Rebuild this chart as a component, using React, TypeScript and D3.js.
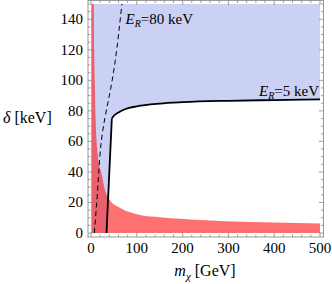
import React from "react";
import * as d3 from "d3";

// ---- data ----
// lower boundary of the E_R = 5 keV region (solid black): near-vertical part, then curve
const solidSteepM = [33.8, 45.5];
const solidSteepD = [0, 75];
const solidCurveM = [45.5, 50, 60, 75, 100, 150, 200, 300, 400, 500];
const solidCurveD = [75, 76.8, 79, 81.2, 83, 84.8, 85.7, 86.6, 87.1, 87.5];
// E_R = 80 keV (dashed)
const dashedM = [7.2, 15, 22.9, 38, 53, 67.5];
const dashedD = [0, 30.8, 61, 87, 113, 150];
// red excluded region upper boundary
const redM = [1, 6, 7, 8.5, 10, 12, 16, 23, 30.6, 41, 63, 107, 151, 239, 350, 500];
const redD = [150, 150, 120, 95, 75, 61, 48, 39, 28, 21.6, 16.5, 11.8, 10.3, 8.5, 7.2, 6.3];

const xMajor = [0, 100, 200, 300, 400, 500];
const yMajor = [0, 20, 40, 60, 80, 100, 120, 140];

const W = 332, H = 284;
const frame = { left: 88, right: 323.5, top: 0.5, bottom: 237 };

export default function App() {
  const x = d3.scaleLinear().domain([0, 500]).range([91, 320]);
  const y = d3.scaleLinear().domain([0, 150]).range([233, 4]);

  const zip = (a: number[], b: number[]) => a.map((v, i) => [v, b[i]] as [number, number]);

  const curveLine = d3.line<[number, number]>().x(d => x(d[0])).y(d => y(d[1])).curve(d3.curveMonotoneX);
  const straight = d3.line<[number, number]>().x(d => x(d[0])).y(d => y(d[1]));

  const steep = zip(solidSteepM, solidSteepD);
  const curve = zip(solidCurveM, solidCurveD);
  const curvePath = curveLine(curve) as string;

  // blue region: above solid boundary
  const blue =
    `M${x(0)},${y(0)}L${x(steep[0][0])},${y(0)}L${x(steep[1][0])},${y(steep[1][1])}` +
    "L" + curvePath.slice(1) +
    `L${x(500)},${y(150)}L${x(0)},${y(150)}Z`;

  const redArea = d3.area<[number, number]>()
    .x(d => x(d[0])).y0(y(0)).y1(d => y(d[1])).curve(d3.curveMonotoneX);
  const redPath = redArea(zip(redM, redD)) as string;

  const dashedLine = d3.line<[number, number]>().x(d => x(d[0])).y(d => y(d[1])).curve(d3.curveNatural);

  const xMinor = d3.range(0, 501, 20).filter(v => v % 100 !== 0);
  const yMinor = d3.range(0, 151, 5).filter(v => v % 20 !== 0);
  const tickCol = "#888";
  const font = "'Liberation Serif', 'Times New Roman', serif";

  return (
    <svg width={W} height={H} style={{ position: "absolute", left: 0, top: 0 }}>
      <rect x={0} y={0} width={W} height={H} fill="#fff" />
      <defs>
        <clipPath id="plot">
          <rect x={frame.left} y={frame.top} width={frame.right - frame.left} height={frame.bottom - frame.top} />
        </clipPath>
      </defs>
      <g clipPath="url(#plot)">
        <path d={blue} fill="#cad1f5" />
        <path d={redPath} fill="rgb(255,30,30)" fillOpacity={0.63} />
        <path d={dashedLine(zip(dashedM, dashedD)) as string} fill="none" stroke="#000" strokeWidth={1} strokeDasharray="5,3.5" />
        <path d={straight(steep) as string} fill="none" stroke="#000" strokeWidth={1.8} />
        <path d={curvePath} fill="none" stroke="#000" strokeWidth={1.8} />
      </g>
      {/* frame */}
      <rect x={frame.left} y={frame.top} width={frame.right - frame.left} height={frame.bottom - frame.top}
        fill="none" stroke="#999" strokeWidth={1} />
      {/* ticks */}
      <g stroke={tickCol} strokeWidth={0.8}>
        {xMajor.map(v => (
          <g key={"xm" + v}>
            <line x1={x(v)} x2={x(v)} y1={frame.bottom} y2={frame.bottom - 4.5} />
            <line x1={x(v)} x2={x(v)} y1={frame.top} y2={frame.top + 4.5} />
          </g>
        ))}
        {xMinor.map(v => (
          <g key={"xn" + v}>
            <line x1={x(v)} x2={x(v)} y1={frame.bottom} y2={frame.bottom - 2.5} />
            <line x1={x(v)} x2={x(v)} y1={frame.top} y2={frame.top + 2.5} />
          </g>
        ))}
        {yMajor.map(v => (
          <g key={"ym" + v}>
            <line y1={y(v)} y2={y(v)} x1={frame.left} x2={frame.left + 4.5} />
            <line y1={y(v)} y2={y(v)} x1={frame.right} x2={frame.right - 4.5} />
          </g>
        ))}
        {yMinor.map(v => (
          <g key={"yn" + v}>
            <line y1={y(v)} y2={y(v)} x1={frame.left} x2={frame.left + 2.5} />
            <line y1={y(v)} y2={y(v)} x1={frame.right} x2={frame.right - 2.5} />
          </g>
        ))}
      </g>
      {/* tick labels */}
      <g fontFamily={font} fontSize={15} fill="#000">
        {xMajor.map(v => (
          <text key={"xl" + v} x={x(v)} y={253} textAnchor="middle">{v}</text>
        ))}
        {yMajor.map(v => (
          <text key={"yl" + v} x={83} y={y(v) + 5} textAnchor="end">{v}</text>
        ))}
      </g>
      {/* axis labels */}
      <text x={3} y={123} fontFamily={font} fontSize={16}>
        <tspan fontStyle="italic">δ</tspan> [keV]
      </text>
      <text x={205} y={276} fontFamily={font} fontSize={16} textAnchor="middle">
        <tspan fontStyle="italic">m</tspan>
        <tspan fontStyle="italic" fontSize={11} dy={4}>χ</tspan>
        <tspan dy={-4}> [GeV]</tspan>
      </text>
      {/* curve labels */}
      <text x={125.5} y={24} fontFamily={font} fontSize={15}>
        <tspan fontStyle="italic">E</tspan>
        <tspan fontStyle="italic" fontSize={10} dy={3}>R</tspan>
        <tspan dy={-3}>=80 keV</tspan>
      </text>
      <text x={259} y={96} fontFamily={font} fontSize={15}>
        <tspan fontStyle="italic">E</tspan>
        <tspan fontStyle="italic" fontSize={10} dy={3}>R</tspan>
        <tspan dy={-3}>=5 keV</tspan>
      </text>
    </svg>
  );
}
